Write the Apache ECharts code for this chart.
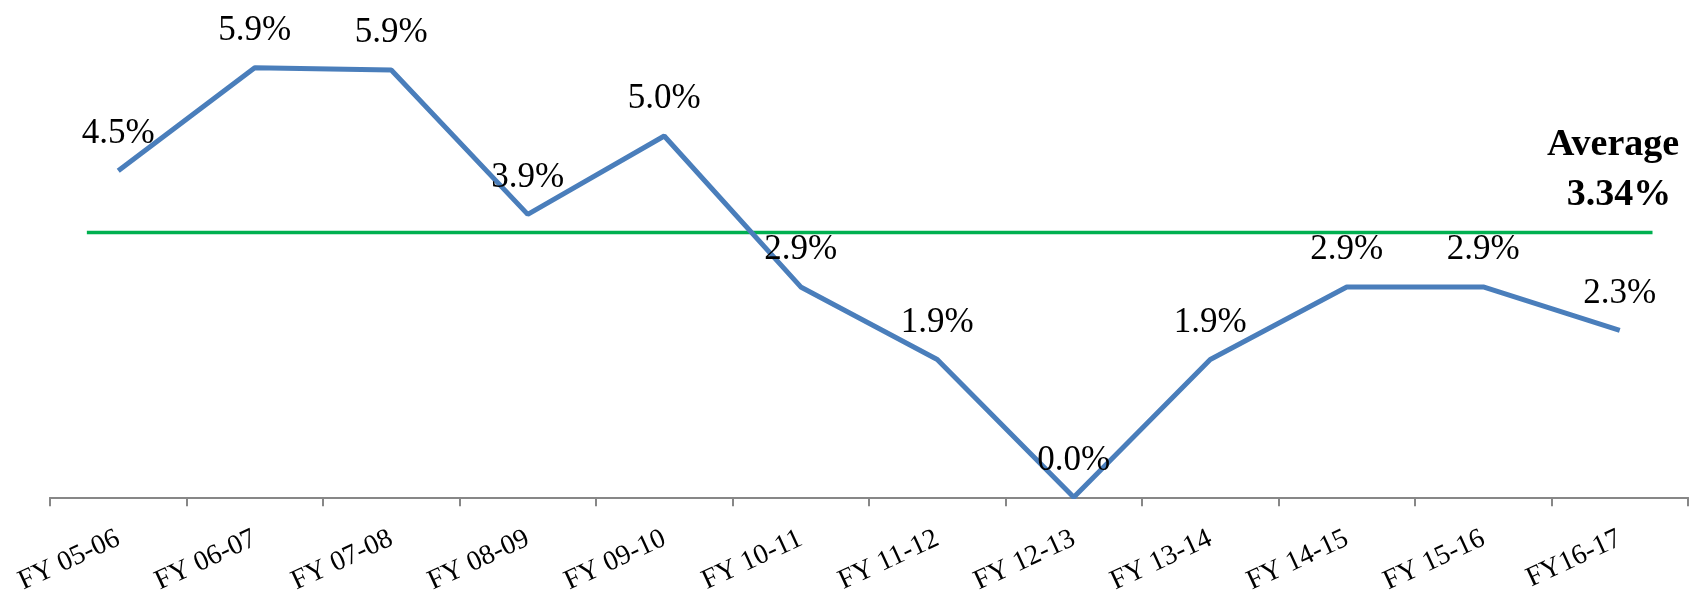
<!DOCTYPE html>
<html>
<head>
<meta charset="utf-8">
<script src="https://cdn.jsdelivr.net/npm/echarts@6/dist/echarts.min.js"></script>
<style>
html,body{margin:0;padding:0;background:#fff;}
#chart{width:1698px;height:597px;}
</style>
</head>
<body>
<div id="chart"></div>
<script>
const categories = ['FY 05-06','FY 06-07','FY 07-08','FY 08-09','FY 09-10','FY 10-11','FY 11-12','FY 12-13','FY 13-14','FY 14-15','FY 15-16','FY16-17'];
const growth = [4.5, 5.92, 5.89, 3.9, 4.98, 2.9, 1.9, 0.0, 1.9, 2.9, 2.9, 2.3];
const averageValue = 3.34;
const averageLineLevel = 3.65;          // level at which the green line is drawn in the picture
const averageLineSpan = [-0.23, 11.24]; // category-index span of the green line

const FONT = 'Liberation Serif';
const chart = echarts.init(document.getElementById('chart'));

chart.setOption({
  animation: false,
  grid: {left: 50, right: 10, top: 62, bottom: 95, containLabel: false},
  xAxis: [{
    type: 'category',
    data: categories,
    boundaryGap: true,
    axisLine: {lineStyle: {color: '#878787', width: 2}},
    axisTick: {show: true, length: 9, lineStyle: {color: '#878787', width: 2}},
    axisLabel: {rotate: 25, fontFamily: FONT, fontSize: 28, color: '#000', margin: 40, interval: 0}
  }, {
    type: 'value', min: -0.5, max: 11.5, show: false
  }],
  yAxis: {type: 'value', min: 0, max: 6, show: false},
  series: [{
    type: 'line',
    data: growth,
    symbol: 'circle',
    symbolSize: 1,
    itemStyle: {color: 'rgba(0,0,0,0)'},
    lineStyle: {color: '#4A7EBB', width: 5},
    label: {
      show: true, position: 'top', distance: 19,
      fontFamily: FONT, fontSize: 35, color: '#000',
      formatter: p => p.value.toFixed(1) + '%'
    },
    z: 3
  }, {
    type: 'line',
    xAxisIndex: 1,
    data: [[averageLineSpan[0], averageLineLevel], [averageLineSpan[1], averageLineLevel]],
    symbol: 'none',
    lineStyle: {color: '#00B050', width: 3.5},
    z: 2
  }],
  graphic: [{
    type: 'text', x: 1613, y: 145,
    style: {text: 'Average', font: 'bold 38px "Liberation Serif"', fill: '#000', align: 'center', verticalAlign: 'middle'}
  }, {
    type: 'text', x: 1619, y: 195,
    style: {text: averageValue.toFixed(2) + '%', font: 'bold 38px "Liberation Serif"', fill: '#000', align: 'center', verticalAlign: 'middle'}
  }]
});
</script>
</body>
</html>
